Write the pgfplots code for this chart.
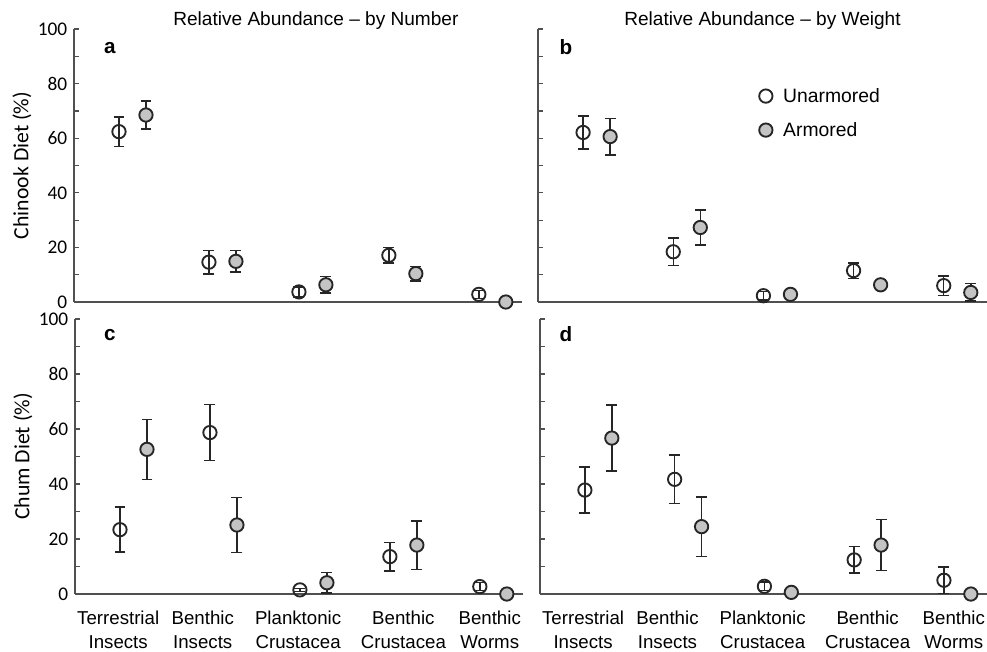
\documentclass[border=0pt]{standalone}
\usepackage{pgfplots}
\pgfplotsset{compat=1.18}
\usepackage{pgfplotstable}
\usepackage{fontspec}
\setmainfont{Liberation Sans}
\newfontfamily\calfont{Carlito}

\definecolor{axisgray}{HTML}{505050}
\definecolor{markdark}{HTML}{262626}
\definecolor{armfill}{HTML}{C4C4C4}

% x = category position (0..4) -/+ 0.15 offset, y = mean, e = error
\pgfplotstableread{
x y e
-0.15 62.4 5.4
0.85 14.6 4.3
1.85 3.7 1.8
2.85 17.1 2.8
3.85 2.8 1.5
}\aUn
\pgfplotstableread{
x y e
0.15 68.5 5.1
1.15 14.9 3.9
2.15 6.3 3.0
3.15 10.4 2.7
4.15 0.0 0.0
}\aArm
\pgfplotstableread{
x y e
-0.15 62.1 6.0
0.85 18.4 5.0
1.85 2.3 1.5
2.85 11.5 2.8
3.85 6.0 3.6
}\bUn
\pgfplotstableread{
x y e
0.15 60.6 6.7
1.15 27.3 6.4
2.15 2.8 1.5
3.15 6.3 1.5
4.15 3.5 3.2
}\bArm
\pgfplotstableread{
x y e
-0.15 23.4 8.2
0.85 58.7 10.2
1.85 1.5 0.6
2.85 13.6 5.2
3.85 2.7 1.5
}\cUn
\pgfplotstableread{
x y e
0.15 52.6 10.9
1.15 25.1 10.0
2.15 4.1 3.8
3.15 17.8 8.8
4.15 0.0 0.0
}\cArm
\pgfplotstableread{
x y e
-0.15 37.8 8.4
0.85 41.7 8.8
1.85 2.8 1.5
2.85 12.4 4.8
3.85 5.0 4.9
}\dUn
\pgfplotstableread{
x y e
0.15 56.7 12.0
1.15 24.5 10.8
2.15 0.6 0.0
3.15 17.8 9.3
4.15 0.0 0.0
}\dArm

\pgfplotsset{
  panel/.style={
    scale only axis, clip=false,
    xmin=-0.65, xmax=4.33, ymin=0, ymax=100,
    axis x line*=bottom, axis y line*=left,
    axis line style={-, axisgray, line width=1pt},
    ytick={0,20,...,100}, minor ytick={10,30,...,90},
    tick align=inside, major tick length=3.75pt, minor tick length=3.75pt,
    every tick/.style={axisgray, line width=0.9pt},
    xtick=\empty,
    /pgf/number format/assume math mode=true,
    y tick label style={font=\calfont\fontsize{14.5}{16}\selectfont, xshift=-1.5pt},
    ylabel style={at={(rel axis cs:-0.116,0.5)}, anchor=center,
      font=\calfont\fontsize{16.3}{18}\selectfont},
    title style={font=\fontsize{14.3}{16}\selectfont, anchor=base, yshift=-3pt},
  },
  cats/.style={
    xtick={-0.17,0.77,1.83,3.0,3.96},
    xticklabels={Terrestrial\\Insects, Benthic\\Insects, Planktonic\\Crustacea,
      Benthic\\Crustacea, Benthic\\Worms},
    xtick style={draw=none},
    x tick label style={align=center, font=\fontsize{14}{18}\selectfont, yshift=-9.5pt},
  },
  un/.style={only marks, mark=o, mark size=5pt,
    mark options={line width=1.4pt, draw=markdark}},
  arm/.style={only marks, mark=*, mark size=5pt,
    mark options={line width=1.4pt, draw=markdark, fill=armfill}},
  eb/.style={draw=none, mark=none, forget plot,
    error bars/.cd, y dir=both, y explicit,
    error bar style={draw=markdark, line width=1.1pt},
    error mark options={rotate=90, mark size=4.1pt, line width=1.1pt, draw=markdark}},
}

\newcommand{\panel}[2]{%
  \addplot[un, forget plot] table[x=x, y=y] {#1};
  \addplot[arm, forget plot] table[x=x, y=y] {#2};
  \addplot[eb] table[x=x, y=y, y error=e] {#1};
  \addplot[eb] table[x=x, y=y, y error=e] {#2};
}

\begin{document}
\begin{tikzpicture}
\path[use as bounding box] (0,0) rectangle (740.25pt,-488.25pt);

% a
\begin{axis}[panel, at={(55.5pt,-226.5pt)}, anchor=south west,
  width=336pt, height=204.75pt,
  ylabel={Chinook Diet (\%)},
  title={Relative Abundance -- by Number}, title style={at={(0.54,1)}}]
\panel{\aUn}{\aArm}
\node[font=\bfseries\fontsize{15.5}{17}\selectfont] at (rel axis cs:0.08,0.93) {a};
\end{axis}

% b
\begin{axis}[panel, at={(403.5pt,-226.5pt)}, anchor=south west,
  width=336.75pt, height=204.75pt, yticklabels=\empty,
  title={Relative Abundance -- by Weight}, title style={at={(0.5,1)}},
  legend style={draw=none, fill=none, inner sep=0pt, at={(0.492,0.692)}, anchor=west,
    font=\fontsize{14.5}{16}\selectfont, row sep=9.5pt,
    /tikz/every odd column/.append style={column sep=6pt}},
  legend cell align=left,
  legend image code/.code={\draw[#1] plot coordinates {(0pt,0pt)};}]
\panel{\bUn}{\bArm}
\addlegendimage{un}\addlegendentry{Unarmored}
\addlegendimage{arm}\addlegendentry{Armored}
\node[font=\bfseries\fontsize{15.5}{17}\selectfont] at (rel axis cs:0.062,0.934) {b};
\end{axis}

% c
\begin{axis}[panel, cats, at={(56.25pt,-445.5pt)}, anchor=south west,
  width=336pt, height=206.25pt,
  ylabel={Chum Diet (\%)}]
\panel{\cUn}{\cArm}
\node[font=\bfseries\fontsize{15.5}{17}\selectfont] at (rel axis cs:0.078,0.942) {c};
\end{axis}

% d
\begin{axis}[panel, cats, at={(405pt,-445.5pt)}, anchor=south west,
  width=335.25pt, height=206.25pt, yticklabels=\empty]
\panel{\dUn}{\dArm}
\node[font=\bfseries\fontsize{15.5}{17}\selectfont] at (rel axis cs:0.058,0.945) {d};
\end{axis}
\end{tikzpicture}
\end{document}
